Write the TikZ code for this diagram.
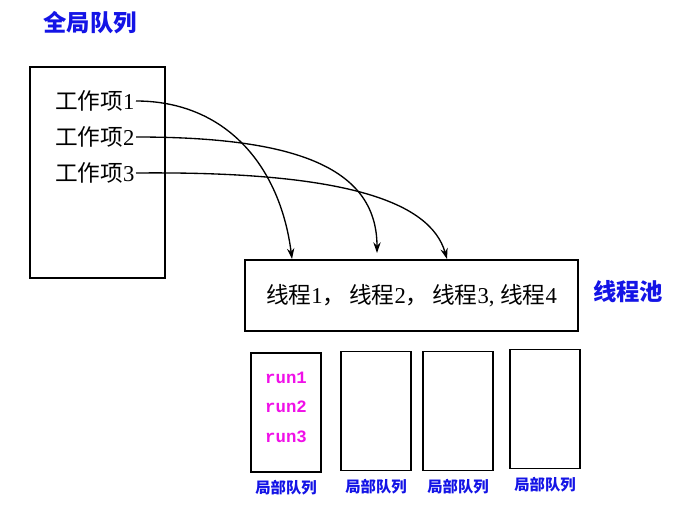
\documentclass[tikz,border=0pt]{standalone}
\usepackage{fontspec}
\setmainfont{Liberation Serif}
\setmonofont{Liberation Mono}
\newfontfamily\cjk{Noto Sans CJK SC}
\usepackage{tikz}
\usetikzlibrary{arrows.meta,positioning}
\definecolor{TitleBlue}{HTML}{1414E6}
\definecolor{RunPink}{HTML}{F010E8}
\newcommand{\zh}[1]{{\cjk #1}}

\begin{document}
\begin{tikzpicture}[
  x=0.75pt,y=-0.75pt,
  qbox/.style={
    draw=black,
    line width=1.3pt,
    inner sep=0pt
  },
  item/.style={
    anchor=east,
    inner sep=1pt,
    font=\fontsize{17pt}{19pt}\selectfont
  },
  title/.style={
    text=TitleBlue,
    inner sep=0pt,
    font=\fontsize{17.5pt}{20pt}\selectfont\cjk\bfseries
  },
  subtitle/.style={
    text=TitleBlue,
    inner sep=0pt,
    font=\fontsize{11.5pt}{13pt}\selectfont\cjk\bfseries
  },
  runtext/.style={
    text=RunPink,
    inner sep=0pt,
    font=\fontsize{13pt}{15pt}\selectfont\ttfamily\bfseries
  },
  arrow/.style={-{Stealth[length=8pt,width=5.5pt]},line width=1pt}
]
\useasboundingbox (0,0) rectangle (688,528);

% global queue
\node[title] (gtitle) at (90,23) {全局队列};
\node[qbox,minimum width=101.25pt,minimum height=158.25pt] (global) at (97.5,172.5) {};
\node[item] (w1) at (136,101) {\zh{工作项}1};
\node[item] (w2) at (136,137) {\zh{工作项}2};
\node[item] (w3) at (136,173) {\zh{工作项}3};

% thread pool
\node[qbox,minimum width=249.75pt,minimum height=53.25pt,
      font=\fontsize{17pt}{19pt}\selectfont] (pool) at (411.5,295.5)
  {\zh{线程}1\zh{，}\,\zh{线程}2\zh{，}\,\zh{线程}3, \zh{线程}4};
\node[title] (ptitle) at (628,292) {线程池};
\coordinate (t1) at (292,259);
\coordinate (t2) at (377,253);
\coordinate (t3) at (447,259);

% local queues
\node[qbox,minimum width=52.5pt,minimum height=89.25pt] (local1) at (286,412.5) {};
\node[qbox,minimum width=52.5pt,minimum height=89.25pt] (local2) at (376,411) {};
\node[qbox,minimum width=52.5pt,minimum height=89.25pt] (local3) at (458,411) {};
\node[qbox,minimum width=52.5pt,minimum height=89.25pt] (local4) at (545,409) {};
\node[runtext] (run1) at (286,378) {run1};
\node[runtext] (run2) at (286,407) {run2};
\node[runtext] (run3) at (286,437) {run3};
\foreach \i in {1,...,4}
  \node[subtitle,below=5.5pt of local\i] (lbl\i) {局部队列};

\draw[arrow] (w1.east) .. controls (225,101) and (280,165) .. (t1);
\draw[arrow] (w2.east) .. controls (290,137) and (377,165) .. (t2);
\draw[arrow] (w3.east) .. controls (340,171) and (430,200) .. (t3);
\end{tikzpicture}
\end{document}
